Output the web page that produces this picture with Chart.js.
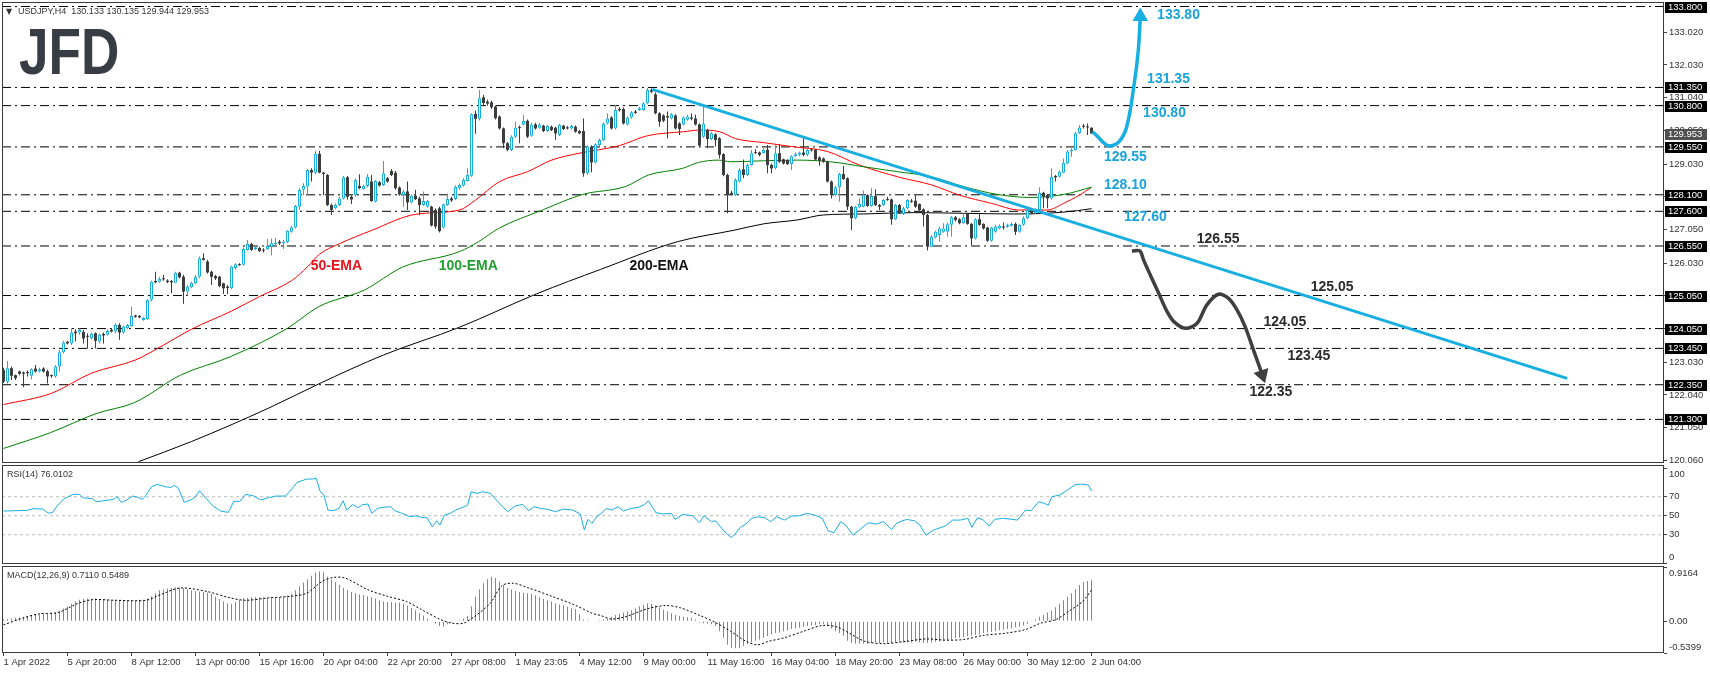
<!DOCTYPE html>
<html><head><meta charset="utf-8">
<script src="https://cdn.jsdelivr.net/npm/chart.js@4.4.1/dist/chart.umd.min.js"></script>
<style>
html,body{margin:0;padding:0;background:#fff;width:1710px;height:674px;overflow:hidden}
canvas{position:absolute;left:0}
#c1{top:0}#c2{top:463px}#c3{top:564px}
</style></head><body>
<canvas id="c1" width="1710" height="465"></canvas>
<canvas id="c2" width="1710" height="103"></canvas>
<canvas id="c3" width="1710" height="110"></canvas>
<script>
// ---------- DATA ----------
const candleOpen = [
122.80,122.44,122.85,122.64,122.75,122.72,122.72,122.62,122.84,122.75,
122.84,122.76,122.62,122.60,122.90,123.33,123.65,123.60,123.96,123.93,
123.95,123.81,123.75,123.91,123.66,123.89,123.86,124.01,123.96,124.16,
123.93,124.06,124.13,124.45,124.43,124.31,124.33,124.92,125.49,125.47,
125.57,125.50,125.49,125.44,125.74,125.62,125.17,125.30,125.42,125.62,
126.18,126.08,125.77,125.64,125.62,125.42,125.32,125.27,125.88,126.00,
125.98,126.43,126.61,126.46,126.49,126.43,126.45,126.53,126.60,126.68,
126.63,126.66,126.98,127.11,127.74,128.25,128.35,128.85,128.77,129.34,
128.77,128.70,127.79,127.69,127.79,127.99,128.63,128.04,128.09,128.37,
128.27,128.37,128.50,127.89,128.48,128.40,128.60,128.82,128.77,128.32,
128.09,128.20,127.87,128.07,127.99,127.79,127.74,127.74,127.64,127.69,
127.11,127.79,127.99,127.97,128.30,128.38,128.52,128.68,130.55,130.40,
131.05,130.92,130.90,130.77,130.47,130.11,129.66,129.46,129.86,130.14,
130.22,130.34,129.89,130.23,130.13,130.19,130.03,130.16,130.13,129.91,
130.19,130.14,130.11,130.16,130.03,130.03,128.75,129.56,129.08,129.61,
129.76,130.26,130.44,130.11,130.70,130.70,130.23,130.44,130.62,130.67,
130.67,130.87,131.27,131.14,130.57,130.50,130.48,130.41,130.50,130.26,
130.23,130.37,130.44,130.41,130.23,129.86,130.06,129.79,129.93,129.81,
129.33,128.70,128.16,128.09,128.50,128.87,128.70,129.00,129.38,129.38,
129.36,129.46,129.00,128.90,129.36,129.17,129.15,129.03,129.27,129.31,
129.38,129.31,129.46,129.46,129.23,129.20,129.10,128.50,128.09,128.33,
128.73,128.60,127.74,127.39,127.72,127.74,128.09,127.76,128.06,127.79,
127.79,127.96,127.96,127.36,127.79,127.52,127.69,127.92,127.92,127.82,
127.66,127.49,126.53,126.81,126.88,126.98,126.98,127.19,127.42,127.36,
127.24,127.54,127.22,126.78,127.36,127.22,127.11,126.71,126.98,127.08,
127.13,127.13,127.16,127.22,126.98,127.19,127.39,127.64,127.54,127.64,
128.16,128.09,127.99,128.67,128.65,128.77,129.05,129.41,129.46,129.96,
130.18,130.16,130.133];
const candleHigh = [
122.86,123.07,122.90,122.66,122.78,122.75,122.78,122.85,122.95,122.86,
122.88,122.80,122.66,122.95,123.40,123.68,123.68,124.06,124.03,124.06,
124.01,123.91,123.93,123.93,123.89,123.93,124.03,124.06,124.21,124.21,
124.14,124.19,124.71,124.47,124.46,124.41,124.94,125.50,125.77,125.62,
125.67,125.54,125.52,125.77,125.77,125.67,125.37,125.47,125.67,126.23,
126.33,126.13,125.80,125.67,125.64,125.44,125.37,125.95,126.03,126.03,
126.51,126.73,126.65,126.55,126.53,126.48,126.76,126.78,126.80,126.73,
126.73,127.03,127.16,127.79,128.30,128.45,128.87,128.90,129.43,129.43,
128.80,128.73,127.84,127.84,128.04,128.67,128.67,128.09,128.60,128.72,
128.41,128.73,128.70,128.55,128.52,129.12,128.64,128.88,128.82,128.35,
128.25,128.50,128.11,128.25,128.04,128.20,127.94,127.77,127.69,127.74,
127.84,128.14,128.04,128.38,128.44,128.60,128.90,130.57,130.65,131.27,
131.12,130.98,130.95,130.80,130.50,130.14,129.70,129.90,130.31,130.20,
130.52,130.38,130.27,130.28,130.27,130.22,130.22,130.20,130.16,130.25,
130.22,130.18,130.22,130.20,130.06,130.41,129.60,129.60,129.66,129.80,
130.30,130.57,130.48,130.82,130.75,130.74,130.48,130.64,130.67,130.76,
130.90,131.34,131.32,131.20,130.60,130.54,130.62,130.58,130.54,130.30,
130.48,130.52,130.56,130.52,130.26,130.82,130.10,130.00,129.96,129.85,
129.36,128.74,128.22,128.60,128.90,129.17,129.05,129.46,129.48,129.41,
129.51,129.61,129.05,129.64,129.63,129.20,129.17,129.30,129.38,129.41,
129.81,129.51,129.51,129.49,129.27,129.23,129.13,128.53,128.37,128.77,
128.97,128.63,127.76,127.76,127.99,128.23,128.12,128.30,128.27,127.82,
127.98,128.04,127.99,127.82,127.82,127.74,127.97,127.97,128.09,127.84,
127.69,127.52,126.88,127.01,127.13,127.24,127.26,127.46,127.46,127.39,
127.54,127.56,127.24,127.39,127.54,127.24,127.13,127.13,127.19,127.20,
127.26,127.22,127.26,127.26,127.22,127.44,127.69,127.68,127.69,128.33,
128.19,128.12,128.90,128.70,128.83,129.20,129.46,129.51,130.01,130.21,
130.24,130.26,130.135];
const candleLow = [
122.40,122.39,122.49,122.49,122.64,122.27,122.60,122.51,122.72,122.72,
122.72,122.39,122.56,122.56,122.75,123.30,123.57,123.55,123.66,123.86,
123.60,123.45,123.72,123.45,123.60,123.60,123.83,123.93,123.91,123.71,
123.89,124.03,124.11,124.38,124.36,124.29,124.31,124.87,125.42,125.44,
125.50,125.42,125.12,125.42,125.57,124.80,125.04,125.27,125.40,125.57,
126.11,125.72,125.37,125.52,125.30,125.10,125.10,125.24,125.84,125.95,
125.96,126.41,126.40,126.43,126.37,126.35,126.43,126.26,126.53,126.58,
126.46,126.63,126.95,127.08,127.64,128.09,128.09,128.50,128.73,128.75,
128.09,127.76,127.49,127.66,127.76,127.96,127.96,127.82,128.04,128.27,
128.25,128.33,127.89,127.87,128.35,128.37,128.47,128.67,128.25,128.07,
127.74,127.64,127.84,127.94,127.49,127.77,127.71,127.14,127.07,126.96,
127.07,127.77,127.89,127.94,128.25,128.35,128.50,128.65,129.95,130.35,
130.80,130.80,130.70,130.38,130.08,129.51,129.42,129.42,129.82,129.66,
130.20,129.82,129.86,130.08,130.10,130.00,130.00,130.03,129.76,129.88,
130.06,130.08,130.08,129.98,129.93,128.65,128.70,128.78,129.04,129.58,
129.72,130.23,130.08,130.08,130.62,130.23,130.20,130.40,130.55,130.64,
130.64,130.84,131.18,130.54,130.16,130.30,129.81,130.38,130.08,129.91,
130.20,130.34,130.36,130.20,129.56,129.82,129.51,129.76,129.56,129.20,
128.66,127.54,128.08,128.06,128.47,128.60,128.67,128.97,129.34,129.27,
129.34,128.75,128.75,128.87,129.07,129.02,129.00,128.85,129.25,129.27,
129.27,129.27,129.41,129.15,128.98,129.07,128.47,127.99,128.06,127.89,
128.55,127.64,127.03,127.36,127.69,127.72,127.74,127.74,127.76,127.64,
127.76,127.92,127.19,127.34,127.52,127.49,127.66,127.86,127.71,127.61,
127.14,126.41,126.51,126.78,126.68,126.95,126.83,126.83,127.29,127.21,
127.22,127.19,126.58,126.75,127.16,127.05,126.68,126.68,126.95,127.05,
127.05,127.10,127.13,126.88,126.95,127.16,127.36,127.51,127.51,127.61,
127.69,127.69,127.96,128.50,128.62,128.75,129.03,129.25,129.44,129.94,
130.11,129.91,129.944];
const candleClose = [
122.45,122.85,122.62,122.55,122.68,122.68,122.70,122.82,122.75,122.82,
122.75,122.60,122.61,122.90,123.33,123.63,123.60,123.93,123.91,124.01,
123.75,123.80,123.89,123.68,123.86,123.84,123.98,123.96,124.16,123.93,
124.11,124.16,124.43,124.41,124.39,124.38,124.92,125.47,125.45,125.55,
125.54,125.46,125.45,125.74,125.60,125.17,125.32,125.44,125.62,126.18,
126.13,125.75,125.62,125.57,125.34,125.27,125.28,125.93,126.00,125.97,
126.46,126.61,126.43,126.51,126.40,126.41,126.55,126.63,126.65,126.63,
126.68,127.01,127.12,127.76,128.25,128.37,128.85,128.77,129.34,128.77,
128.73,127.79,127.64,127.79,127.99,128.63,128.04,127.96,128.55,128.30,
128.37,128.65,127.91,128.52,128.38,128.75,128.50,128.70,128.30,128.11,
128.20,127.87,128.07,127.97,127.79,127.91,127.91,127.17,127.14,127.00,
127.81,127.97,127.93,128.34,128.40,128.55,128.70,130.54,130.40,131.02,
130.88,130.86,130.75,130.42,130.11,129.66,129.46,129.86,130.13,130.12,
130.34,129.86,130.23,130.11,130.23,130.03,130.19,130.06,129.96,130.21,
130.09,130.11,130.18,130.01,129.96,128.75,129.56,129.08,129.63,129.76,
130.26,130.41,130.11,130.67,130.66,130.26,130.44,130.60,130.58,130.72,
130.87,131.27,131.22,130.57,130.31,130.34,130.44,130.54,130.11,130.09,
130.44,130.47,130.40,130.23,129.59,130.26,129.79,129.96,129.76,129.31,
128.70,128.11,128.12,128.55,128.85,128.70,129.00,129.36,129.36,129.31,
129.46,129.00,128.90,129.36,129.10,129.05,129.03,129.27,129.33,129.38,
129.31,129.46,129.44,129.17,129.13,129.10,128.50,128.09,128.33,128.73,
128.58,127.74,127.39,127.74,127.82,128.09,127.76,128.06,127.79,127.74,
127.94,127.94,127.36,127.79,127.54,127.69,127.94,127.89,127.74,127.64,
127.49,126.53,126.83,126.98,127.08,127.08,127.21,127.42,127.34,127.24,
127.42,127.22,126.78,127.36,127.19,127.08,126.71,127.11,127.13,127.16,
127.11,127.19,127.22,126.98,127.19,127.39,127.64,127.54,127.66,128.16,
128.04,127.99,128.65,128.63,128.80,129.07,129.41,129.46,129.96,130.14,
130.16,130.14,129.953];

const ema50Idx = [0,12,22,33,40,47,57,64,72,76,79,84,92,103,114,118,124,131,137,144,154,161,170,174,179,183,190,197,206,214,224,232,239,247,254,261,265,269,272];
const ema50Val = [121.75,122.09,122.70,123.10,123.55,124.03,124.58,125.02,125.50,125.92,126.30,126.62,127.02,127.51,127.64,127.94,128.50,128.80,129.15,129.36,129.59,129.89,130.01,130.06,130.01,129.80,129.68,129.56,129.41,129.00,128.63,128.40,128.09,127.84,127.64,127.64,127.84,128.09,128.33];
const ema100Idx = [0,11.75,23.25,32.75,44.25,56.75,71,78.75,90.25,99.75,114,118.75,123.75,134.75,144.75,155.5,161.25,169.75,173.75,178.75,181.75,190,198.5,206.75,215,223.5,231.75,240,248.5,256.75,265,272];
const ema100Val = [120.42,120.90,121.48,121.81,122.64,123.20,124.06,124.71,125.22,125.91,126.38,126.68,127.08,127.64,128.11,128.35,128.70,128.90,129.08,129.15,129.10,129.13,129.15,129.10,128.95,128.80,128.65,128.35,128.11,128.02,128.11,128.33];
const ema200Idx = [33.75,47,66.25,78.75,95,114,133.25,149.25,168.5,182.75,190,198.5,205,215,227.5,240,252.5,261,268.5,272];
const ema200Val = [120.02,120.63,121.64,122.37,123.25,124.09,125.10,125.84,126.68,127.03,127.22,127.34,127.49,127.52,127.56,127.54,127.52,127.54,127.62,127.68];

const hLevels = [133.80,131.35,130.80,129.55,128.10,127.60,126.55,125.05,124.05,123.45,122.35,121.30];
const lastPrice = 129.953;
const priceTicks = [133.02,132.03,131.04,130.05,129.03,128.04,127.05,126.03,125.04,124.05,123.03,122.04,121.05,120.06];

const trendIdx = [162.2,390.9];
const trendVal = [131.29,122.54];
const bullPathIdx = [272.2,273.6,275.0,276.5,278.9,280.8,282.7,283.7,284.2];
const bullPathVal = [130.01,129.86,129.68,129.58,129.71,130.16,131.48,132.48,133.50];
const bearPathIdx = [282.1,284.1,285.0,286.9,288.8,290.7,292.6,295.5,298.4,300.8,303.7,306.2,308.4,310.4,312.5,314.7];
const bearPathVal = [126.40,126.40,126.13,125.62,125.12,124.61,124.26,124.06,124.21,124.76,125.09,124.97,124.61,124.11,123.40,122.65];

const noteText = ['133.80','131.35','130.80','129.55','128.10','127.60','126.55','125.05','124.05','123.45','122.35','50-EMA','100-EMA','200-EMA'];
const noteIdx  = [288.4,285.9,284.9,275.1,275.1,280.1,298.3,326.8,315.0,321.0,311.5,76.8,108.8,156.5];
const noteVal  = [133.54,131.61,130.58,129.25,128.40,127.43,126.76,125.31,124.25,123.22,122.13,125.94,125.94,125.94];
const noteColor = ['#1aa3da','#1aa3da','#1aa3da','#1aa3da','#1aa3da','#1aa3da','#2b2b2b','#2b2b2b','#2b2b2b','#2b2b2b','#2b2b2b','#e5141e','#21a031','#111111'];

const rsiIdx = [0,3.1,5.9,7.4,9.8,11.2,12.2,13.6,15,17.4,18.9,19.8,22.2,23.2,25.1,27.5,28.4,29.4,30.8,32.3,33.7,34.7,35.6,37,38.5,40.4,41.8,42.8,43.7,45.2,47.1,48,49,49.9,52.4,54.3,56.2,57.6,59,60.5,62.4,64.3,66.2,68.1,70.5,71.5,73.4,75.8,77.2,78.2,79.1,80.1,81.1,82.5,83.9,84.9,85.8,87.3,88.7,89.7,91.1,92.1,93.5,94.9,96.8,97.8,99.2,100.7,101.6,103.1,104.5,105.9,107.2,108.3,109.1,110.2,111.7,113.1,116,116.9,118.4,119.8,121.7,123.6,126,127.9,129.8,131.3,132.7,134.2,136.1,138,139.9,142.3,144.2,145.2,146.1,147.1,148.5,
149.3,150.7,152.1,153.6,155,156.9,158.8,160.3,161.2,163.1,165,167,167.9,169.8,172.2,174,175.1,177,178,179.9,181.8,182.7,184.2,185.6,187,188.5,190.4,191.8,193.3,195.2,197.1,199,200.9,202.8,204.7,206.2,207.6,209.3,210.5,212.4,214.3,216.2,218.1,220,222,223.4,225.8,227.7,229.1,230.6,232.5,235.4,237.3,239.2,241.1,242.1,243.5,245,246.4,247.8,249.7,251.6,253.5,255.5,256.9,258.8,260.2,261.2,262.1,264.1,266,267.9,269.3,271.2,272];
const rsiVal = [54.9,55.3,55.6,57.4,57.0,52.8,53.2,61.2,67.5,72.5,72.5,68.9,67.9,64.7,65.8,67.2,70.0,64.0,66.5,70.7,69.3,67.2,71.4,80.5,83.0,80.5,79.8,81.9,78.8,64.0,67.2,70.0,76.3,71.8,60.2,54.9,53.5,65.4,64.7,72.5,71.1,66.5,68.9,70.7,70.7,75.3,85.1,88.6,88.6,89.3,76.0,71.8,56.0,55.3,57.7,65.8,56.0,61.9,58.4,61.6,62.3,52.5,57.7,58.8,59.5,55.3,53.2,50.7,48.9,50.0,48.2,47.9,38.4,44.7,40.2,50.4,52.5,56.0,60.9,75.3,73.5,75.3,73.5,64.7,54.2,60.2,61.9,55.3,59.5,57.7,56.7,54.2,57.0,56.0,51.8,34.9,46.1,41.9,50.0,
51.8,57.7,56.0,59.5,54.9,57.7,58.8,61.9,65.8,53.2,51.8,52.5,46.1,51.4,50.0,42.6,50.0,43.7,44.7,34.9,27.2,29.6,37.7,41.2,47.2,48.9,47.9,43.7,48.9,45.4,49.6,50.0,52.5,50.7,47.2,33.9,32.1,43.7,40.2,29.6,36.0,42.6,41.2,43.7,35.6,42.6,46.1,44.7,40.2,29.6,34.9,39.1,45.4,45.4,47.2,37.7,47.9,45.4,39.1,46.1,47.2,46.5,45.4,56.0,55.3,64.7,63.0,61.2,70.0,71.8,77.0,82.6,83.3,82.3,76.0];
const rsiLevels = [70,50,30];
const rsiTicks = [100,70,50,30,0];

const macdHist = [
0.03,0.04,0.05,0.06,0.07,0.08,0.09,0.10,0.11,0.12,0.13,0.13,0.14,
0.15,0.18,0.22,0.26,0.30,0.34,0.37,0.38,
0.39,0.39,0.39,0.38,0.38,0.37,0.37,0.36,0.36,0.36,0.36,0.36,0.36,0.37,0.37,0.39,
0.43,0.48,0.53,0.55,0.56,0.57,0.58,0.58,
0.57,0.55,0.53,0.52,0.51,0.50,0.49,0.47,
0.42,0.38,0.34,0.31,0.30,0.33,
0.37,0.40,0.40,0.41,0.41,0.41,0.41,0.41,0.41,0.41,0.41,0.42,
0.44,0.47,0.53,0.60,0.66,0.72,0.78,0.83,0.85,0.84,
0.76,0.71,0.67,0.62,0.57,0.53,0.50,0.48,0.46,0.45,
0.43,0.41,0.39,0.36,0.34,0.33,0.33,0.32,0.32,0.30,
0.27,0.23,0.19,0.14,0.10,0.05,0.00,-0.04,-0.08,-0.09,
-0.05,-0.02,0.00,0.02,0.05,0.09,
0.26,0.42,0.55,0.65,0.72,0.76,0.74,0.68,
0.62,0.57,0.54,0.52,0.50,0.49,0.48,0.47,0.44,0.41,
0.38,0.36,0.34,0.31,0.29,0.27,0.25,0.23,0.21,0.12,
0.03,0.02,0.01,0.01,0.02,0.03,
0.05,0.08,0.11,0.13,0.15,0.17,0.19,0.22,0.26,0.28,0.31,0.30,0.27,
0.24,0.20,0.17,0.14,0.11,0.09,0.08,0.07,0.06,
0.03,-0.02,-0.03,-0.04,-0.05,-0.08,
-0.17,-0.28,-0.40,-0.45,-0.46,-0.46,-0.42,-0.39,
-0.36,-0.33,-0.31,-0.28,-0.25,-0.22,-0.20,-0.19,-0.17,-0.15,-0.13,-0.12,-0.11,
-0.09,-0.08,-0.07,-0.06,-0.05,-0.04,-0.06,-0.12,
-0.17,-0.20,-0.24,-0.33,-0.37,-0.38,-0.38,-0.38,
-0.38,-0.37,-0.36,-0.37,-0.36,-0.37,-0.37,-0.36,-0.35,-0.36,-0.36,-0.36,-0.35,-0.36,-0.37,-0.37,-0.36,-0.35,-0.34,-0.34,
-0.33,-0.31,-0.29,-0.28,-0.27,-0.25,-0.24,-0.23,-0.22,-0.20,-0.19,-0.18,-0.17,-0.15,-0.14,-0.13,-0.12,-0.10,-0.09,-0.07,-0.04,
-0.01,0.03,0.08,0.11,0.15,0.18,0.24,0.30,0.36,0.42,0.48,0.55,0.62,0.67,0.69,0.711];
const sigIdx = [0,5,9,13.6,18.4,22.2,27.9,35.6,39.4,44.2,50.9,56.7,60.5,66.2,72,75.8,79.6,82.5,85.4,91.1,95.9,100.7,104.5,109.3,112.1,115,117.9,121.7,124.6,127.5,131.3,137,142.8,147.1,149.3,152.1,156,160.7,165.5,169.3,174.1,178,181.8,185.6,188.5,191.3,195.2,200,204.7,208.6,211.4,215.3,220.1,225.8,230.6,235.4,240.1,244.9,250.7,255.5,259.3,263.1,266.9,269.8,272.1];
const sigVal = [-0.06,0.06,0.13,0.15,0.30,0.37,0.36,0.36,0.46,0.57,0.51,0.40,0.36,0.40,0.43,0.48,0.68,0.75,0.74,0.54,0.43,0.34,0.20,0.03,-0.03,-0.03,0.09,0.31,0.61,0.65,0.57,0.43,0.28,0.14,0.10,0.04,0.09,0.21,0.27,0.23,0.10,-0.02,-0.17,-0.34,-0.40,-0.34,-0.28,-0.17,-0.07,-0.10,-0.20,-0.34,-0.38,-0.34,-0.30,-0.32,-0.31,-0.24,-0.20,-0.14,-0.03,0.03,0.20,0.34,0.54];
const macdTicks = [0.9164,0,-0.5399];

const xTickIdx = [0,16,32,48,64,80,96,112,128,144,160,176,192,208,224,240,256,272];
const xTickLabels = ['1 Apr 2022','5 Apr 20:00','8 Apr 12:00','13 Apr 00:00','15 Apr 16:00','20 Apr 04:00','22 Apr 20:00','27 Apr 08:00','1 May 23:05','4 May 12:00','9 May 00:00','11 May 16:00','16 May 04:00','18 May 20:00','23 May 08:00','26 May 00:00','30 May 12:00','2 Jun 04:00'];

// ---------- STYLE ----------
const CYAN = '#17aee2', DARK = '#3d3d3d', AXIS_TXT = '#333333';
const X_MIN = -0.375, X_MAX = 415.125;
const TICK_FONT = {family:'Liberation Sans', size:9.5};
Chart.defaults.font.family = 'Liberation Sans';

const xHidden = {type:'linear', min:X_MIN, max:X_MAX, offset:false, display:false, grid:{display:false}};
function rightAxis(min, max, ticks, fmt){
  return {type:'linear', position:'right', min, max,
    afterFit(s){ s.width = 46; s.paddingTop = 0; s.paddingBottom = 0; },
    afterBuildTicks(s){ s.ticks = ticks.map(v => ({value:v})); },
    grid:{drawOnChartArea:false, drawTicks:true, tickLength:3, color:'#444'},
    border:{display:false},
    ticks:{autoSkip:false, padding:2, color:AXIS_TXT, font:TICK_FONT, callback:fmt}};
}
// panel-edge labels sit inside the panel (top label below its tick, bottom label above it)
function edgeFmt(ticks, fmt){
  const top = Math.max(...ticks), bottom = Math.min(...ticks);
  return v => v === top ? ['', fmt(v)] : (v === bottom ? [fmt(v), ''] : fmt(v));
}
function frame(chart){
  const {ctx, chartArea:a} = chart;
  ctx.save(); ctx.strokeStyle = '#3a3a3a'; ctx.lineWidth = 1;
  ctx.strokeRect(a.left+0.5, a.top+0.5, a.right-a.left-1, a.bottom-a.top-1);
  ctx.restore();
}
function hline(v, color, dash, order){
  return {type:'line', data:[{x:X_MIN,y:v},{x:X_MAX,y:v}], borderColor:color, borderWidth:1, borderDash:dash, pointRadius:0, order};
}
const pts = (xs, ys) => xs.map((x,i) => ({x, y:ys[i]}));
const baseOpts = (pad) => ({responsive:false, animation:false, events:[],
  layout:{padding:pad, autoPadding:false},
  plugins:{legend:{display:false}, tooltip:{enabled:false}},
  elements:{point:{hoverRadius:0}}});

// ---------- MAIN CHART ----------
const bull = candleOpen.map((o,i) => candleClose[i] > o);
const mainDatasets = [];
hLevels.forEach(L => mainDatasets.push(hline(L, '#000', [9,4,2,4], 20)));
mainDatasets.push({type:'line', data:pts(ema200Idx, ema200Val), borderColor:'#000', borderWidth:1, pointRadius:0, cubicInterpolationMode:'monotone', order:8});
mainDatasets.push({type:'line', data:pts(ema100Idx, ema100Val), borderColor:'#008000', borderWidth:1, pointRadius:0, cubicInterpolationMode:'monotone', order:8});
mainDatasets.push({type:'line', data:pts(ema50Idx, ema50Val), borderColor:'#ff0000', borderWidth:1, pointRadius:0, cubicInterpolationMode:'monotone', order:8});
mainDatasets.push({type:'bar', data:candleOpen.map((o,i) => ({x:i, y:[candleLow[i], candleHigh[i]]})),
  backgroundColor:bull.map(b => b ? CYAN : DARK), barThickness:1, grouped:false, inflateAmount:0, borderWidth:0, order:6});
mainDatasets.push({type:'bar', data:candleOpen.map((o,i) => ({x:i, y:[Math.min(o,candleClose[i]), Math.max(o,candleClose[i])]})),
  backgroundColor:bull.map(b => b ? '#ffffff' : DARK), borderColor:bull.map(b => b ? CYAN : DARK),
  borderWidth:bull.map(b => b ? 1 : 0), borderSkipped:false, barThickness:3, grouped:false, inflateAmount:0, minBarLength:1, order:5});
mainDatasets.push({type:'line', data:pts(trendIdx, trendVal), borderColor:CYAN, borderWidth:3, pointRadius:0, order:3});
mainDatasets.push({type:'line', data:pts(bullPathIdx, bullPathVal), borderColor:CYAN, borderWidth:3.5, tension:0.4,
  pointRadius:bullPathIdx.map((_,i) => i === bullPathIdx.length-1 ? 9 : 0), pointStyle:'triangle', pointRotation:0,
  pointBackgroundColor:CYAN, pointBorderColor:CYAN, pointBorderWidth:0, order:2});
mainDatasets.push({type:'line', data:pts(bearPathIdx, bearPathVal), borderColor:'#3f3f3f', borderWidth:3.5, tension:0.3,
  pointRadius:bearPathIdx.map((_,i) => i === bearPathIdx.length-1 ? 9 : 0), pointStyle:'triangle', pointRotation:162,
  pointBackgroundColor:'#3f3f3f', pointBorderColor:'#3f3f3f', pointBorderWidth:0, order:2});

const mainDeco = {
  id:'mainDeco',
  afterDatasetsDraw(chart){
    const {ctx} = chart, x = chart.scales.x, y = chart.scales.y;
    ctx.save();
    ctx.font = 'bold 14px "Liberation Sans"'; ctx.textBaseline = 'middle'; ctx.textAlign = 'left';
    noteText.forEach((t,k) => { ctx.fillStyle = noteColor[k]; ctx.fillText(t, x.getPixelForValue(noteIdx[k]), y.getPixelForValue(noteVal[k])); });
    ctx.restore();
  },
  afterDraw(chart){
    const {ctx} = chart, y = chart.scales.y;
    frame(chart);
    ctx.save();
    ctx.font = '9.5px "Liberation Sans"'; ctx.textBaseline = 'middle'; ctx.textAlign = 'left';
    const box = (v, bg) => { const py = Math.round(y.getPixelForValue(v)); ctx.fillStyle = bg; ctx.fillRect(1665, py-5, 42, 11); ctx.fillStyle = '#fff'; ctx.fillText(v.toFixed(3), 1668, py+0.5); };
    hLevels.forEach(L => box(L, '#000'));
    box(lastPrice, '#505050');
    // header
    ctx.fillStyle = '#333'; ctx.font = '8px "DejaVu Sans"'; ctx.fillText('\u25BC', 6, 12);
    ctx.font = '9px "Liberation Sans"';
    ctx.fillText('USDJPY,H4  130.133 130.135 129.944 129.953', 18, 12);
    // logo
    ctx.fillStyle = '#383d45'; ctx.font = 'bold 64px "Liberation Sans"'; ctx.textBaseline = 'alphabetic';
    ctx.translate(19, 74); ctx.scale(0.83, 1); ctx.fillText('JFD', 0, 0);
    ctx.restore();
  }
};

const mainOpts = baseOpts({left:2, top:2, bottom:2, right:0});
mainOpts.scales = {x:xHidden, y:rightAxis(119.98, 133.937, priceTicks, v => v.toFixed(3))};
new Chart(document.getElementById('c1'), {type:'bar', data:{datasets:mainDatasets}, options:mainOpts, plugins:[mainDeco]});

// ---------- RSI ----------
const rsiDatasets = rsiLevels.map(L => hline(L, '#bdbdbd', [3,3], 10));
rsiDatasets.push({type:'line', data:pts(rsiIdx, rsiVal), borderColor:CYAN, borderWidth:1, pointRadius:0, order:1});
const rsiOpts = baseOpts({left:2, top:2, bottom:2, right:0});
rsiOpts.scales = {x:xHidden, y:rightAxis(-0.84, 103.4, rsiTicks, edgeFmt(rsiTicks, v => String(v)))};
new Chart(document.getElementById('c2'), {type:'line', data:{datasets:rsiDatasets}, options:rsiOpts,
  plugins:[{id:'rsiDeco', afterDraw(chart){ frame(chart); const c = chart.ctx; c.save(); c.fillStyle='#333'; c.font='9px "Liberation Sans"'; c.textBaseline='middle'; c.fillText('RSI(14) 76.0102', 7, 12); c.restore(); }}]});

// ---------- MACD ----------
const macdDatasets = [
  {type:'bar', data:macdHist.map((v,i) => ({x:i, y:v})), backgroundColor:CYAN, barThickness:1, grouped:false, inflateAmount:0, order:3},
  {type:'line', data:pts(sigIdx, sigVal), borderColor:'#000', borderWidth:1, borderDash:[2,2], pointRadius:0, tension:0.3, order:1}
];
const macdOpts = baseOpts({left:2, top:2, bottom:0, right:0});
macdOpts.scales = {
  x:{type:'linear', min:X_MIN, max:X_MAX, offset:false, position:'bottom',
    afterFit(s){ s.height = 21; s.paddingLeft = 0; s.paddingRight = 0; },
    afterBuildTicks(s){ s.ticks = xTickIdx.map(v => ({value:v})); },
    grid:{drawOnChartArea:false, drawTicks:true, tickLength:3, color:'#444', offset:false},
    border:{display:false},
    ticks:{autoSkip:false, maxRotation:0, minRotation:0, align:'start', padding:1, color:AXIS_TXT, font:TICK_FONT,
      callback:(v) => xTickLabels[xTickIdx.indexOf(v)]}},
  y:rightAxis(-0.5399, 0.945, macdTicks, edgeFmt(macdTicks, v => v === 0 ? '0.00' : v.toFixed(4)))};
new Chart(document.getElementById('c3'), {type:'bar', data:{datasets:macdDatasets}, options:macdOpts,
  plugins:[{id:'macdDeco', afterDraw(chart){ frame(chart); const c = chart.ctx; c.save(); c.fillStyle='#333'; c.font='9px "Liberation Sans"'; c.textBaseline='middle'; c.fillText('MACD(12,26,9) 0.7110 0.5489', 7, 12); c.restore(); }}]});
</script></body></html>
